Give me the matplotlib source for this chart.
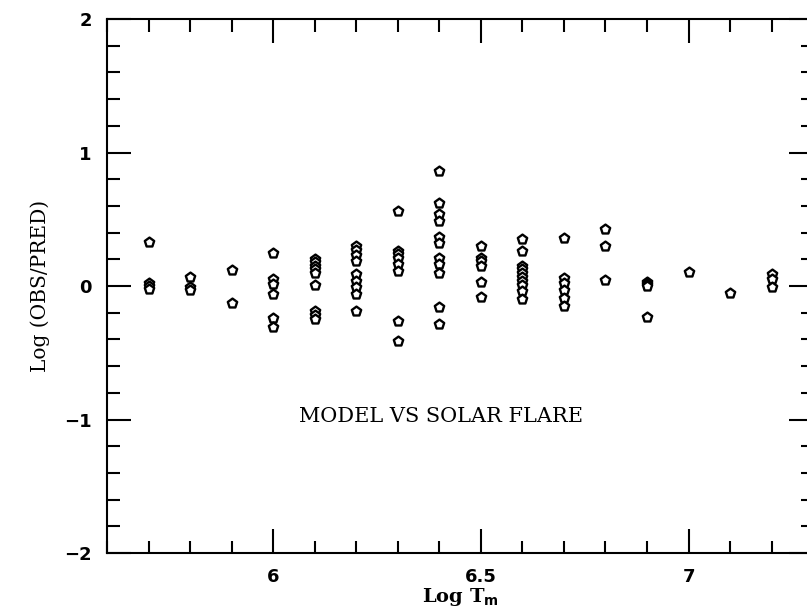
import matplotlib
matplotlib.use("Agg")
import matplotlib.pyplot as plt
from matplotlib.ticker import MultipleLocator

# ---------------------------------------
# Data: log T_m columns and log(OBS/PRED) values
# ---------------------------------------
log_tm = [5.7, 5.8, 5.9, 6.0, 6.1, 6.2, 6.3, 6.4,
          6.5, 6.6, 6.7, 6.8, 6.9, 7.0, 7.1, 7.2]

ratios = [
    [0.33, 0.02, 0.0, -0.02],
    [0.07, -0.01, -0.03],
    [0.12, -0.13],
    [0.245, 0.05, 0.015, -0.06, -0.24, -0.31],
    [0.20, 0.18, 0.15, 0.13, 0.10, 0.01, -0.185, -0.22, -0.25],
    [0.30, 0.27, 0.23, 0.19, 0.09, 0.04, -0.01, -0.06, -0.185],
    [0.56, 0.26, 0.24, 0.21, 0.165, 0.115, -0.26, -0.41],
    [0.86, 0.62, 0.54, 0.49, 0.37, 0.32, 0.21, 0.165, 0.10, -0.16, -0.285],
    [0.30, 0.21, 0.19, 0.15, 0.03, -0.08],
    [0.35, 0.26, 0.15, 0.13, 0.10, 0.07, 0.04, 0.01, -0.04, -0.10],
    [0.36, 0.06, 0.02, -0.03, -0.09, -0.15],
    [0.43, 0.30, 0.045],
    [0.03, 0.015, 0.0, -0.23],
    [0.107],
    [-0.05],
    [0.09, 0.05, -0.005],
]

xs = []
ys = []
for t, vals in zip(log_tm, ratios):
    for v in vals:
        xs.append(t)
        ys.append(v)

# ---------------------------------------
# Figure
# ---------------------------------------
fig = plt.figure(figsize=(8.07, 6.13), dpi=100)
ax = fig.add_axes([0.1326, 0.0979, 0.875, 0.871])

ax.scatter(xs, ys, marker='p', s=50, facecolors='white',
           edgecolors='black', linewidths=1.7, zorder=3)

ax.set_xlim(5.6, 7.3)
ax.set_ylim(-2, 2)

ax.xaxis.set_major_locator(MultipleLocator(0.5))
ax.xaxis.set_minor_locator(MultipleLocator(0.1))
ax.yaxis.set_major_locator(MultipleLocator(1))
ax.yaxis.set_minor_locator(MultipleLocator(0.2))

ax.tick_params(which='both', direction='in', top=True, right=True,
               width=1.5, labelsize=13)
ax.tick_params(which='major', length=17, pad=11)
ax.tick_params(which='minor', length=9)
ax.set_xticks([6, 6.5, 7])
ax.set_xticklabels(['6', '6.5', '7'], fontweight='bold')
ax.set_yticks([-2, -1, 0, 1, 2])
ax.set_yticklabels(['\u22122', '\u22121', '0', '1', '2'], fontweight='bold')

for sp in ax.spines.values():
    sp.set_linewidth(1.5)

ax.set_ylabel('Log (OBS/PRED)', family='DejaVu Serif', fontsize=14.5, labelpad=10)
ax.set_xlabel(r'Log T$_{\mathbf{m}}$', family='DejaVu Serif', fontsize=14,
              fontweight='bold', labelpad=0)

ax.text(6.405, -0.98, 'MODEL VS SOLAR FLARE', family='DejaVu Serif',
        fontsize=15, ha='center', va='center')

fig.savefig('out.png', dpi=100)
